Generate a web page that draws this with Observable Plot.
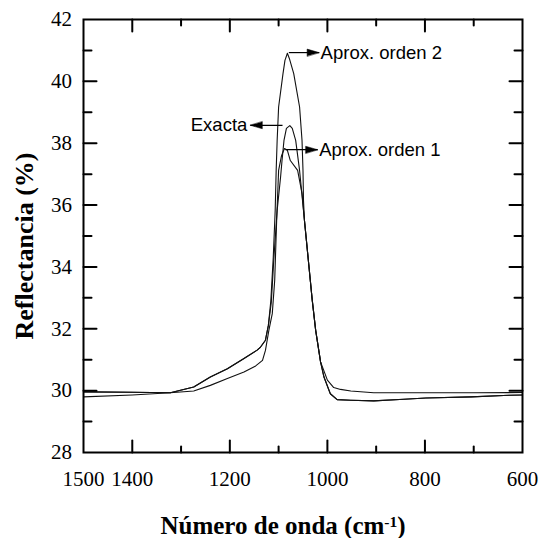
<!DOCTYPE html>
<html>
<head>
<meta charset="utf-8">
<script src="https://cdn.jsdelivr.net/npm/d3@7"></script>
<script src="https://cdn.jsdelivr.net/npm/@observablehq/plot@0.6"></script>
<style>
  html, body { margin: 0; padding: 0; background: #fff; }
  #chart svg { display: block; }
</style>
</head>
<body>
<div id="chart"></div>
<script>
// ---- Data ----
const exactaX = [1500,1400,1322,1274,1240,1205,1171,1144,1137,1127,1121,1115,1110,1103,1096,1093,1089,1084,1077,1072,1065,1057,1051,1047,1039,1031,1024,1014,1007,994,980,952,905,843,798,705,627,600];
const exactaY = [29.96,29.95,29.93,30.12,30.44,30.71,31.04,31.31,31.41,31.63,32.11,32.85,34.21,35.83,36.9,37.44,38.09,38.48,38.57,38.48,38.09,37.12,36.15,35.5,34.21,32.92,31.95,30.93,30.44,29.9,29.71,29.69,29.67,29.72,29.76,29.8,29.85,29.86];

const orden2X = [1500,1400,1322,1274,1240,1205,1171,1144,1137,1127,1121,1116,1111,1107,1105,1103,1100,1091,1087,1082,1078,1069,1057,1052,1050,1049,1047,1039,1031,1024,1014,1007,994,980,952,905,843,798,705,627,600];
const orden2Y = [29.96,29.95,29.93,30.12,30.44,30.71,31.04,31.31,31.41,31.63,32.11,32.9,34.3,35.83,37.12,38.09,39.17,40.25,40.68,40.91,40.74,40.25,39.17,38.09,37.12,36.15,35.5,34.21,32.92,31.95,30.93,30.44,29.9,29.71,29.69,29.67,29.72,29.76,29.8,29.85,29.86];

const orden1X = [1500,1400,1322,1274,1240,1205,1171,1147,1133,1127,1120,1113,1108,1104,1100,1094,1088,1082,1076,1061,1052,1047,1039,1031,1024,1014,1000,987,973,952,905,800,700,600];
const orden1Y = [29.8,29.86,29.93,29.99,30.17,30.39,30.6,30.8,30.98,31.3,31.95,32.49,33.57,35.51,37.12,37.6,37.83,37.77,37.44,37.12,36.38,35.5,34.21,32.92,31.95,30.93,30.34,30.1,30.04,29.99,29.93,29.93,29.93,29.94];

const xTickLabels = [1500, 1400, 1200, 1000, 800, 600];
const xMajorTicks = [1400, 1200, 1000, 800];
const xMinorTicks = [1300, 1100, 900, 700];
const yTickLabels = [28, 30, 32, 34, 36, 38, 40, 42];
const yMajorTicks = [30, 32, 34, 36, 38, 40];
const yMinorTicks = [29, 31, 33, 35, 37, 39, 41];

const annotLabels = ["Aprox. orden 2", "Exacta", "Aprox. orden 1"];
const annotTailX = [1079, 1092, 1086];
const annotTipX = [1017, 1158, 1020];
const annotY = [40.93, 38.58, 37.79];
const annotDir = ["right", "left", "right"];

const xTitle = "Número de onda (cm-1)";
const yTitle = "Reflectancia (%)";

// ---- Tables built from the arrays ----
const series = [
  {name: "Exacta", xs: exactaX, ys: exactaY},
  {name: "Aprox. orden 2", xs: orden2X, ys: orden2Y},
  {name: "Aprox. orden 1", xs: orden1X, ys: orden1Y}
];
const rows = series.flatMap(s => s.xs.map((x, i) => ({series: s.name, x, y: s.ys[i]})));
const annots = annotLabels.map((label, i) => ({label, tailX: annotTailX[i], tipX: annotTipX[i], y: annotY[i], dir: annotDir[i]}));

// custom shapes for vectors
const tickLine = { draw(ctx, l) { ctx.moveTo(0, 0); ctx.lineTo(0, -l); } };
const head = { draw(ctx, l) { ctx.moveTo(0, -l); ctx.lineTo(-3.5, 0); ctx.lineTo(3.5, 0); ctx.closePath(); } };

const serif = "'Liberation Serif', 'Times New Roman', Times, serif";
const sans = "'Liberation Sans', Arial, Helvetica, sans-serif";

function ticks(values, axis, anchor, len) {
  const rot = {bottom: 0, top: 180, left: 90, right: -90}[anchor];
  return Plot.vector(values, {
    [axis]: d => d, frameAnchor: anchor, length: len, rotate: rot, anchor: "start",
    shape: tickLine, stroke: "black", strokeWidth: 2
  });
}

const plot = Plot.plot({
  width: 543,
  height: 538,
  marginLeft: 83,
  marginRight: 21,
  marginTop: 19,
  marginBottom: 86,
  style: {fontFamily: serif, background: "#fff", color: "black"},
  x: {domain: [1500, 600]},
  y: {domain: [28, 42]},
  marks: [
    Plot.line(rows, {x: "x", y: "y", z: "series", stroke: "#111", strokeWidth: 1.1}),
    Plot.frame({stroke: "black", strokeWidth: 2}),
    ticks(xMajorTicks, "x", "bottom", 12),
    ticks(xMinorTicks, "x", "bottom", 6),
    ticks(xMajorTicks, "x", "top", 12),
    ticks(xMinorTicks, "x", "top", 6),
    ticks(yMajorTicks, "y", "left", 13),
    ticks(yMinorTicks, "y", "left", 8),
    ticks(yMajorTicks, "y", "right", 13),
    ticks(yMinorTicks, "y", "right", 8),
    Plot.axisX({ticks: xTickLabels, tickSize: 0, tickPadding: 18.5, tickFormat: d => String(d), fontSize: 21, fontFamily: serif, label: null}),
    Plot.axisY({ticks: yTickLabels, tickSize: 0, tickPadding: 11.5, tickFormat: d => String(d), fontSize: 21, fontFamily: serif, label: null}),
    Plot.link(annots, {x1: "tailX", y1: "y", x2: "tipX", y2: "y", stroke: "black", strokeWidth: 1.2}),
    Plot.vector(annots, {x: "tipX", y: "y", rotate: d => d.dir === "right" ? 90 : -90, length: 12, anchor: "end", shape: head, fill: "black", stroke: "black", strokeWidth: 0.5}),
    Plot.text(annots.filter(d => d.dir === "right"), {x: "tipX", y: "y", text: "label", textAnchor: "start", dx: 1.5, fontFamily: sans, fontSize: 18.5, fill: "black"}),
    Plot.text(annots.filter(d => d.dir === "left"), {x: "tipX", y: "y", text: "label", textAnchor: "end", dx: -3, fontFamily: sans, fontSize: 18.5, fill: "black"}),
    Plot.text([xTitle], {text: d => d, frameAnchor: "bottom", textAnchor: "middle", lineAnchor: "middle", dx: -20, dy: 73, fontSize: 25, fontWeight: "bold", fontFamily: serif, fill: "black"}),
    Plot.text([yTitle], {text: d => d, frameAnchor: "left", textAnchor: "middle", lineAnchor: "middle", rotate: -90, dx: -59, dy: 10, fontSize: 26, fontWeight: "bold", fontFamily: serif, fill: "black"})
  ]
});

// serif tick labels: apply the font directly on each numeric label
d3.select(plot).selectAll("text")
  .filter(function() { return /^\d+$/.test(this.textContent.trim()); })
  .attr("font-family", "Liberation Serif")
  .style("font-family", "'Liberation Serif', serif")
  .style("font-size", "21px");

// superscript for the x title
d3.select(plot).selectAll("text").filter(function() { return this.textContent === xTitle; }).each(function() {
  const t = d3.select(this);
  t.text(null);
  t.append("tspan").text("Número de onda (cm");
  t.append("tspan").attr("dy", "-0.45em").attr("font-size", "0.62em").text("-1");
  t.append("tspan").attr("dy", "0.28em").text(")");
});

document.getElementById("chart").append(plot);
</script>
</body>
</html>
